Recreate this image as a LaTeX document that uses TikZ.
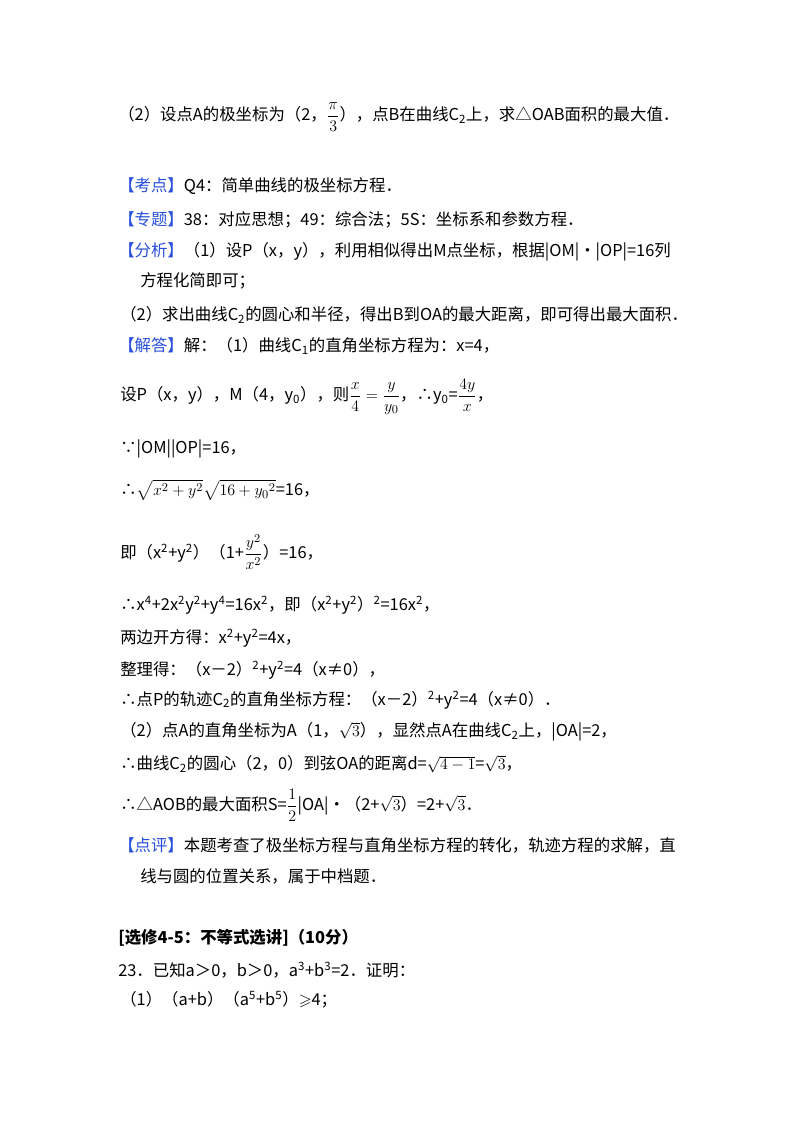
\documentclass[tikz,border=0pt]{standalone}
\usepackage{fontspec}
\setmainfont{Noto Sans CJK SC}
\usepackage{amsmath,amssymb}
\definecolor{kb}{RGB}{40,80,220}
\begin{document}
\begin{tikzpicture}[x=0.75pt,y=0.75pt,
  t/.style={anchor=west,inner sep=0,font=\fontsize{12.3}{14}\selectfont},
  k/.style={text=kb}]
\useasboundingbox[fill=white] (0,0) rectangle (800,-1133);
\node[t] (l1) at (118,-117) {（2）设点A的极坐标为（2，$\dfrac{\pi}{3}$），点B在曲线C\textsubscript{2}上，求△OAB面积的最大值．};
\node[t] (l2) at (118,-186) {\textcolor{kb}{【考点】}Q4：简单曲线的极坐标方程．};
\node[t] (l3) at (118,-220) {\textcolor{kb}{【专题】}38：对应思想；49：综合法；5S：坐标系和参数方程．};
\node[t] (l4) at (118,-252) {\textcolor{kb}{【分析】}（1）设P（x，y），利用相似得出M点坐标，根据|OM|•|OP|=16列};
\node[t] (l5) at (140,-281) {方程化简即可；};
\node[t] (l6) at (120,-315) {（2）求出曲线C\textsubscript{2}的圆心和半径，得出B到OA的最大距离，即可得出最大面积．};
\node[t] (l7) at (118,-346) {\textcolor{kb}{【解答】}解：（1）曲线C\textsubscript{1}的直角坐标方程为：x=4，};
\node[t] (l8) at (120,-397) {设P（x，y），M（4，y\textsubscript{0}），则$\dfrac{x}{4}=\dfrac{y}{y_0}$，∴y\textsubscript{0}=$\dfrac{4y}{x}$，};
\node[t] (l9) at (120,-449) {∵|OM||OP|=16，};
\node[t] (l10) at (120,-490) {∴$\sqrt{x^2+y^2}\sqrt{16+{y_0}^2}$=16，};
\node[t] (l11) at (120,-552) {即（x\textsuperscript{2}+y\textsuperscript{2}）（1+$\dfrac{y^2}{x^2}$）=16，};
\node[t] (l12) at (120,-605) {∴x\textsuperscript{4}+2x\textsuperscript{2}y\textsuperscript{2}+y\textsuperscript{4}=16x\textsuperscript{2}，即（x\textsuperscript{2}+y\textsuperscript{2}）\textsuperscript{2}=16x\textsuperscript{2}，};
\node[t] (l13) at (120,-638) {两边开方得：x\textsuperscript{2}+y\textsuperscript{2}=4x，};
\node[t] (l14) at (120,-670) {整理得：（x－2）\textsuperscript{2}+y\textsuperscript{2}=4（x≠0），};
\node[t] (l15) at (120,-700) {∴点P的轨迹C\textsubscript{2}的直角坐标方程：（x－2）\textsuperscript{2}+y\textsuperscript{2}=4（x≠0）．};
\node[t] (l16) at (120,-732) {（2）点A的直角坐标为A（1，$\sqrt{3}$），显然点A在曲线C\textsubscript{2}上，|OA|=2，};
\node[t] (l17) at (120,-764) {∴曲线C\textsubscript{2}的圆心（2，0）到弦OA的距离d=$\sqrt{4-1}$=$\sqrt{3}$，};
\node[t] (l18) at (120,-805) {∴△AOB的最大面积S=$\dfrac{1}{2}$|OA|•（2+$\sqrt{3}$）=2+$\sqrt{3}$．};
\node[t] (l19) at (118,-845) {\textcolor{kb}{【点评】}本题考查了极坐标方程与直角坐标方程的转化，轨迹方程的求解，直};
\node[t] (l20) at (140,-876) {线与圆的位置关系，属于中档题．};
\node[t] (l21) at (118,-938) {\textbf{[选修4-5：不等式选讲]（10分）}};
\node[t] (l22) at (118,-970) {23．已知a＞0，b＞0，a\textsuperscript{3}+b\textsuperscript{3}=2．证明：};
\node[t] (l23) at (120,-1000) {（1）（a+b）（a\textsuperscript{5}+b\textsuperscript{5}）$\geqslant$4；};
\end{tikzpicture}
\end{document}
